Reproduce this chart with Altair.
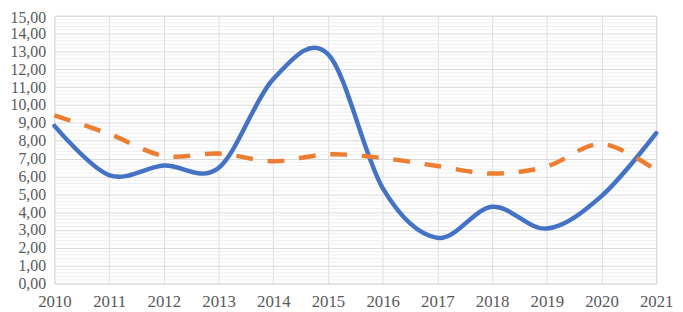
import altair as alt
import pandas as pd

years = list(range(2010, 2022))
blue = [8.83, 6.07, 6.61, 6.47, 11.45, 12.85, 5.35, 2.56, 4.3, 3.08, 4.9, 8.42]
orange = [9.42, 8.38, 7.15, 7.28, 6.85, 7.24, 7.03, 6.58, 6.16, 6.56, 7.82, 6.34]
major_ticks = list(range(0, 16))
minor_ticks = [round(i * 0.2, 1) for i in range(76) if i % 5 != 0]

df = pd.DataFrame({"year": years, "blue": blue, "orange": orange})
df_minor = pd.DataFrame({"v": minor_ticks})

yscale = alt.Scale(domain=[0, 15], nice=False, zero=True)
xscale = alt.Scale(domain=[2010, 2021], nice=False, zero=False)

x = alt.X("year:Q", scale=xscale,
          axis=alt.Axis(values=years, tickCount=100, format="d", title=None, ticks=False, domain=False,
                        grid=True, gridColor="#d9d9d9", gridWidth=1,
                        labelFont="Liberation Serif", labelFontSize=17, labelColor="#595959",
                        labelPadding=10, labelOverlap=False, labelBound=False, labelFlush=False))

y_axis = alt.Axis(values=major_ticks, tickCount=100, title=None, ticks=False, domain=False, grid=True,
                  gridColor="#d9d9d9", gridWidth=1,
                  labelExpr="replace(format(datum.value, '.2f'), '.', ',')",
                  labelOffset={"condition": {"test": "datum.value >= 15", "value": 2}, "value": 0},
                  labelFont="Liberation Serif", labelFontSize=16, labelColor="#595959",
                  labelPadding=9, labelOverlap=False, labelBound=False, labelFlush=False)

minor = alt.Chart(df_minor).mark_rule(color="#efefef", strokeWidth=1).encode(
    y=alt.Y("v:Q", scale=yscale, axis=y_axis))

line_blue = alt.Chart(df).mark_line(color="#4472C4", strokeWidth=4.5, interpolate="cardinal",
                                    tension=0, strokeCap="round").encode(
    x=x, y=alt.Y("blue:Q", scale=yscale))

line_orange = alt.Chart(df).mark_line(color="#ED7D31", strokeWidth=4.5, interpolate="cardinal",
                                      tension=0, strokeDash=[17, 15]).encode(
    x=x, y=alt.Y("orange:Q", scale=yscale))

chart = alt.layer(minor, line_blue, line_orange).properties(
    width=609, height=271,
    autosize=alt.AutoSizeParams(type="none"),
    padding={"left": 47, "top": 6, "right": 19, "bottom": 30},
).configure_view(stroke="#d9d9d9", strokeWidth=1).configure(background="white")

chart.save("out.html", embed_options={"renderer": "svg", "actions": False})
